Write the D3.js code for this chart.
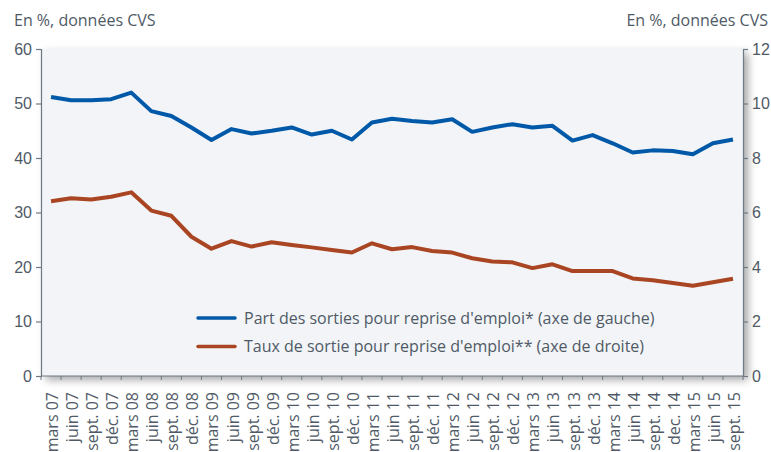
<!DOCTYPE html>
<html><head><meta charset="utf-8">
<script src="https://cdn.jsdelivr.net/npm/d3@7"></script>
<style>
body{margin:0;background:#fff;}
svg{display:block;font-family:"Open Sans","Noto Sans",sans-serif;}
</style></head>
<body><svg id="c" width="771" height="452"></svg>
<script>
const categories = ["mars 07","juin 07","sept. 07","déc. 07","mars 08","juin 08","sept. 08","déc. 08","mars 09","juin 09","sept. 09","déc. 09","mars 10","juin 10","sept. 10","déc. 10","mars 11","juin 11","sept. 11","déc. 11","mars 12","juin 12","sept. 12","déc. 12","mars 13","juin 13","sept. 13","déc. 13","mars 14","juin 14","sept. 14","dec. 14","mars 15","juin 15","sept. 15"];
const partSorties = [51.2,50.6,50.6,50.8,52.0,48.6,47.7,45.6,43.3,45.3,44.5,45.0,45.6,44.3,45.0,43.4,46.5,47.2,46.8,46.5,47.1,44.8,45.6,46.2,45.6,45.9,43.2,44.2,42.7,41.0,41.4,41.3,40.7,42.7,43.4];
const tauxSortie = [6.41,6.52,6.48,6.58,6.74,6.07,5.88,5.11,4.67,4.95,4.75,4.91,4.81,4.72,4.62,4.53,4.87,4.65,4.73,4.59,4.53,4.32,4.20,4.17,3.96,4.10,3.85,3.85,3.85,3.58,3.51,3.41,3.31,3.44,3.57];
const leftTicks = [0,10,20,30,40,50,60];
const rightTicks = [0,2,4,6,8,10,12];
const seriesNames = ["Part des sorties pour reprise d'emploi* (axe de gauche)","Taux de sortie pour reprise d'emploi** (axe de droite)"];
const unitLabel = "En %, données CVS";

const svg = d3.select("#c");
const L=41, R=743, T=49, B=376;
const textCol="#4f5a66", axisCol="#6f7983";
const blue="#0059a8", red="#a94522";
const fs = 16;

const defs = svg.append("defs");
const f = defs.append("filter").attr("id","sh").attr("x","-5%").attr("y","-5%").attr("width","115%").attr("height","120%");
f.append("feDropShadow").attr("dx",5).attr("dy",4).attr("stdDeviation",4).attr("flood-color","#000").attr("flood-opacity",0.35);

const x = d3.scaleBand().domain(categories).range([L,R]).padding(0);
const yL = d3.scaleLinear().domain([0,60]).range([B,T]);
const yR = d3.scaleLinear().domain([0,12]).range([B,T]);

svg.append("rect").attr("x",L).attr("y",T).attr("width",R-L).attr("height",B-T)
  .attr("fill","#f2f4f7").attr("filter","url(#sh)");

// left axis
const gl = svg.append("g").attr("transform",`translate(${L},0)`)
  .call(d3.axisLeft(yL).tickValues(leftTicks).tickSize(5).tickPadding(4));
gl.select(".domain").attr("stroke",axisCol).attr("stroke-width",1.2);
gl.selectAll(".tick line").attr("stroke",axisCol).attr("stroke-width",1.2);
gl.selectAll("text").attr("fill",textCol).attr("font-size",fs);

// right axis
const gr = svg.append("g").attr("transform",`translate(${R},0)`)
  .call(d3.axisRight(yR).tickValues(rightTicks).tickSize(5).tickPadding(4));
gr.select(".domain").attr("stroke",axisCol).attr("stroke-width",1.2);
gr.selectAll(".tick line").attr("stroke",axisCol).attr("stroke-width",1.2);
gr.selectAll("text").attr("fill",textCol).attr("font-size",fs);

// bottom axis: ticks at band boundaries
const gb = svg.append("g").attr("transform",`translate(0,${B})`);
gb.append("line").attr("x1",L).attr("x2",R).attr("stroke",axisCol).attr("stroke-width",1.2);
const bounds = categories.map(c=>x(c)).concat([R]);
gb.selectAll("line.t").data(bounds).enter().append("line").attr("class","t")
  .attr("x1",d=>d).attr("x2",d=>d).attr("y1",0).attr("y2",4).attr("stroke",axisCol).attr("stroke-width",1);
gb.selectAll("text").data(categories).enter().append("text")
  .attr("transform",d=>`translate(${x(d)+x.bandwidth()/2+7},${16}) rotate(-90)`)
  .attr("text-anchor","end").attr("fill",textCol).attr("font-size",fs).text(d=>d);

// lines
const lineL = d3.line().x((d,i)=>x(categories[i])+x.bandwidth()/2).y(d=>yL(d));
const lineR = d3.line().x((d,i)=>x(categories[i])+x.bandwidth()/2).y(d=>yR(d));
svg.append("path").datum(tauxSortie).attr("d",lineR).attr("fill","none").attr("stroke",red).attr("stroke-width",4).attr("stroke-linejoin","round");
svg.append("path").datum(partSorties).attr("d",lineL).attr("fill","none").attr("stroke",blue).attr("stroke-width",4).attr("stroke-linejoin","round");

// legend
const lg = svg.append("g");
[[blue,318],[red,346.5]].forEach((c,i)=>{
  lg.append("line").attr("x1",198).attr("x2",235).attr("y1",c[1]).attr("y2",c[1]).attr("stroke",c[0]).attr("stroke-width",3.5).attr("stroke-linecap","round");
  lg.append("text").attr("x",244).attr("y",c[1]+5.5).attr("fill",textCol).attr("font-size",fs).text(seriesNames[i]);
});

// unit labels
svg.append("text").attr("x",14).attr("y",26).attr("fill",textCol).attr("font-size",fs).text(unitLabel);
svg.append("text").attr("x",768).attr("y",26).attr("text-anchor","end").attr("fill",textCol).attr("font-size",fs).text(unitLabel);
</script></body></html>
